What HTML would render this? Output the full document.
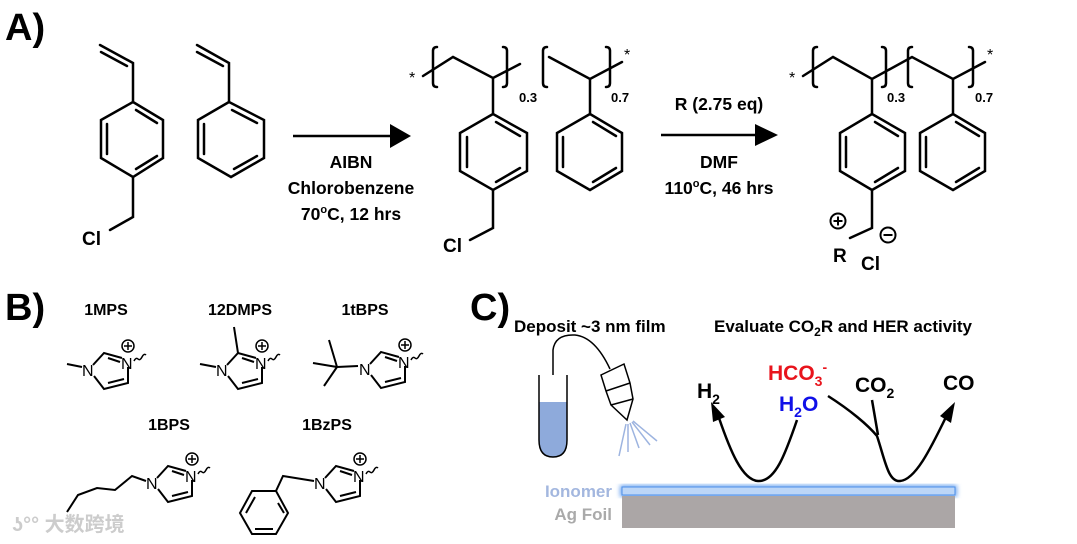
<!DOCTYPE html>
<html><head><meta charset="utf-8"><style>
html,body{margin:0;padding:0;background:#fff}
svg{display:block}
text{font-family:"Liberation Sans","Noto Sans CJK SC",sans-serif;font-weight:bold}
</style></head><body>
<svg width="1077" height="544" viewBox="0 0 1077 544" xmlns="http://www.w3.org/2000/svg">
<defs>
<filter id="glow"><feGaussianBlur stdDeviation="2.5"/></filter>
<g id="im">
<path d="M5,-4 L16,-16 L34,-11 M40,-2 L40,14 L16,20 L6,7" fill="none" stroke="#000" stroke-width="2"/>
<path d="M20,-11 L32,-7 M20,14 L36,10" fill="none" stroke="#000" stroke-width="2"/>
<text x="-6" y="7" font-size="16" style="font-weight:normal">N</text>
<text x="33" y="0" font-size="16" style="font-weight:normal">N</text>
<circle cx="40" cy="-23" r="6" fill="none" stroke="#000" stroke-width="1.5"/>
<path d="M36,-23 h8 M40,-27 v8" stroke="#000" stroke-width="1.5"/>
<path d="M46,-8 q2,-4 4,-2 q2,2 4,-2 q2,-4 4,-2" fill="none" stroke="#000" stroke-width="1.5"/>
</g>
</defs>
<g stroke="#000" stroke-width="2.5" fill="none" stroke-linecap="round">
<path d="M100,45 L133,63 L133,102 L163,120 L163,158 L133,177 L101,158 L101,120 L133,102 M133,177 L133,217 L110,230"/>
<path d="M101,52 L127,66 M136,110 L157,123 M107,124 L107,154 M136,169 L157,156"/>
<path d="M197,45 L229,63 L229,102 L264,120 L264,158 L231,177 L198,158 L198,120 L229,102"/>
<path d="M197,52 L223,66 M232,110 L257,123 M204,124 L204,154 M234,169 L257,156"/>
<path d="M423,76 L453,57 L493,78 L520,64 M493,78 L493,114 L527,133 L527,171 L493,190 L460,171 L460,133 L493,114 M493,190 L493,228 L470,240"/>
<path d="M496,122 L520,136 M467,137 L467,167 M496,182 L520,168"/>
<path d="M437,47 q-4,0 -4,4 v32 q0,4 4,4 M503,47 q4,0 4,4 v32 q0,4 -4,4"/>
<path d="M549,57 L590,79 L622,62 M590,79 L590,114 L622,133 L622,171 L590,190 L557,171 L557,133 L590,114"/>
<path d="M593,122 L616,136 M563,137 L563,167 M593,182 L616,168"/>
<path d="M547,47 q-4,0 -4,4 v32 q0,4 4,4 M606,47 q4,0 4,4 v32 q0,4 -4,4"/>
<path d="M803,76 L833,57 L872,79 L912,57 L953,79 L985,62 M872,79 L872,114 L905,133 L905,171 L872,190 L840,171 L840,133 L872,114 M872,190 L872,228 L850,238"/>
<path d="M875,122 L898,136 M846,137 L846,167 M875,182 L898,168"/>
<path d="M817,47 q-4,0 -4,4 v32 q0,4 4,4 M882,47 q4,0 4,4 v32 q0,4 -4,4"/>
<path d="M912,47 q-4,0 -4,4 v32 q0,4 4,4 M969,47 q4,0 4,4 v32 q0,4 -4,4"/>
<path d="M953,79 L953,114 L985,133 L985,171 L953,190 L920,171 L920,133 L953,114"/>
<path d="M956,122 L979,136 M926,137 L926,167 M956,182 L979,168"/>
</g>
<line x1="293" y1="136" x2="395" y2="136" stroke="#000" stroke-width="2.5"/>
<path d="M390,124 L411,136 L390,148 z"/>
<line x1="661" y1="135" x2="760" y2="135" stroke="#000" stroke-width="2.5"/>
<path d="M755,124 L778,135 L755,146 z"/>
<text x="5" y="40" font-size="38">A)</text>
<text x="82" y="245" font-size="19">Cl</text>
<text x="443" y="252" font-size="19">Cl</text>
<text x="409" y="83" font-size="16" style="font-weight:normal">*</text>
<text x="624" y="60" font-size="16" style="font-weight:normal">*</text>
<text x="789" y="83" font-size="16" style="font-weight:normal">*</text>
<text x="987" y="60" font-size="16" style="font-weight:normal">*</text>
<text x="519" y="102" font-size="13">0.3</text>
<text x="611" y="102" font-size="13">0.7</text>
<text x="887" y="102" font-size="13">0.3</text>
<text x="975" y="102" font-size="13">0.7</text>
<g font-size="17.5" text-anchor="middle">
<text x="351" y="168">AIBN</text>
<text x="351" y="194">Chlorobenzene</text>
<text x="351" y="220">70<tspan dy="-7" font-size="11">o</tspan><tspan dy="7">C, 12 hrs</tspan></text>
<text x="719" y="110">R (2.75 eq)</text>
<text x="719" y="168">DMF</text>
<text x="719" y="194">110<tspan dy="-7" font-size="11">o</tspan><tspan dy="7">C, 46 hrs</tspan></text>
</g>
<text x="833" y="262" font-size="19">R</text>
<text x="861" y="270" font-size="19">Cl</text>
<circle cx="838" cy="221" r="7.5" fill="none" stroke="#000" stroke-width="2"/>
<path d="M833.5,221 h9 M838,216.5 v9" stroke="#000" stroke-width="2"/>
<circle cx="888" cy="235" r="7.5" fill="none" stroke="#000" stroke-width="2"/>
<path d="M883.5,235 h9" stroke="#000" stroke-width="2"/>
<text x="5" y="320" font-size="38">B)</text>
<g font-size="16" text-anchor="middle">
<text x="106" y="315">1MPS</text>
<text x="240" y="315">12DMPS</text>
<text x="365" y="315">1tBPS</text>
<text x="169" y="430">1BPS</text>
<text x="327" y="430">1BzPS</text>
</g>
<use href="#im" x="88" y="369"/>
<use href="#im" x="222" y="369"/>
<use href="#im" x="365" y="368"/>
<use href="#im" x="152" y="482"/>
<use href="#im" x="320" y="482"/>
<g stroke="#000" stroke-width="2" fill="none">
<path d="M82,367 L67,364"/>
<path d="M216,367 L200,364 M238,353 L234,327"/>
<path d="M358,366 L337,367 M337,367 L329,340 M337,367 L313,363 M337,367 L324,386"/>
<path d="M146,481 L132,476 L115,490 L97,488 L78,495 L67,512"/>
<path d="M314,481 L283,476 L276,491 L288,513 L276,534 L252,534 L240,513 L252,491 L276,491"/>
<path d="M278,503 L284,513 M255,529 L273,529 M246,513 L255,497"/>
</g>
<text x="12" y="531" font-size="20" fill="#ccc">ʖ°° 大数跨境</text>
<text x="470" y="320" font-size="38">C)</text>
<text x="514" y="332" font-size="17">Deposit ~3 nm film</text>
<text x="714" y="332" font-size="17">Evaluate CO<tspan dy="4" font-size="12">2</tspan><tspan dy="-4">R and HER activity</tspan></text>
<path d="M539,402 L567,402 L567,440 Q567,457 553,457 Q539,457 539,440 z" fill="#8eaadb"/>
<path d="M539,375 L539,440 Q539,457 553,457 Q567,457 567,440 L567,375" fill="none" stroke="#000" stroke-width="1.5"/>
<path d="M553,375 L553,350 Q555,334 575,335 Q595,337 610,369" fill="none" stroke="#000" stroke-width="1.5"/>
<path d="M601,375 L624,364 L630,383 L633,399 L627,420 L611,405 L606,391 z" fill="#fff" stroke="#000" stroke-width="1.5"/>
<path d="M606,391 L630,383 M611,405 L633,399" stroke="#000" stroke-width="1.5"/>
<g stroke="#9db4e0" stroke-width="1.5">
<path d="M626,424 L619,456 M628,424 L628,452 M630,423 L639,448 M632,422 L650,445 M633,421 L657,441"/>
</g>
<rect x="620" y="485" width="337" height="12" fill="#6fa6f0" filter="url(#glow)"/>
<rect x="622" y="487" width="333" height="8" fill="#bcd6f7" stroke="#4c8fe8" stroke-width="1"/>
<rect x="622" y="496" width="333" height="32" fill="#aba6a6"/>
<text x="612" y="497" font-size="17" text-anchor="end" fill="#a3b7df">Ionomer</text>
<text x="612" y="520" font-size="17" text-anchor="end" fill="#aaa">Ag Foil</text>
<g stroke="#000" stroke-width="2.5" fill="none">
<path d="M797,420 C785,455 775,482 758,481 C742,480 730,450 719,418"/>
<path d="M828,396 C850,410 868,425 877,436 C885,460 888,482 900,481 C915,480 930,450 946,417"/>
<path d="M872,400 L878,435"/>
</g>
<path d="M711,402 L725,417 L713,422 z"/>
<path d="M955,402 L951,423 L940,416 z"/>
<text x="697" y="398" font-size="21">H<tspan dy="6" font-size="14">2</tspan></text>
<text x="768" y="380" font-size="21" fill="#e8141c">HCO<tspan dy="6" font-size="14">3</tspan><tspan dy="-14" font-size="14">-</tspan></text>
<text x="779" y="411" font-size="21" fill="#1010e8">H<tspan dy="6" font-size="14">2</tspan><tspan dy="-6">O</tspan></text>
<text x="855" y="392" font-size="21">CO<tspan dy="6" font-size="14">2</tspan></text>
<text x="943" y="390" font-size="21">CO</text>
</svg>
</body></html>
